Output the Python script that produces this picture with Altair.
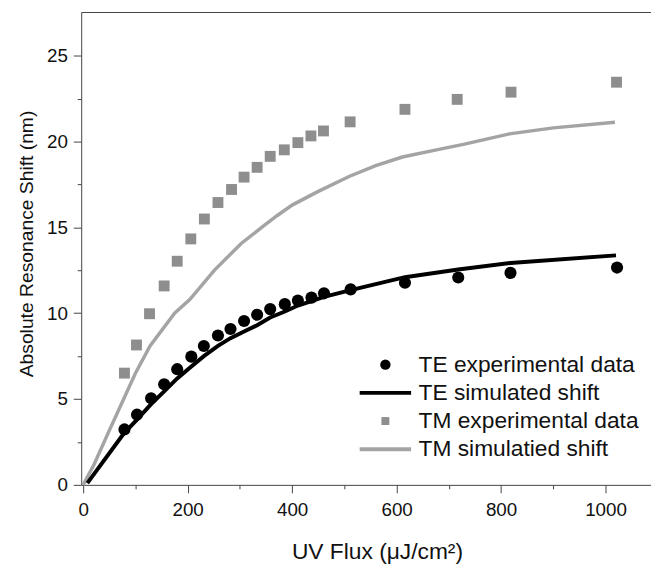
import altair as alt
import pandas as pd

# ---- data ----
te_exp_x = [79, 103, 130, 155, 180, 207, 231, 258, 282, 308, 333, 358, 386, 411, 437, 461, 512, 616, 718, 818, 1022]
te_exp_y = [3.23, 4.09, 5.05, 5.86, 6.74, 7.47, 8.09, 8.70, 9.08, 9.55, 9.91, 10.24, 10.53, 10.74, 10.91, 11.16, 11.39, 11.78, 12.08, 12.35, 12.66]

tm_exp_x = [79, 102, 127, 155, 180, 206, 232, 258, 284, 308, 333, 358, 385, 411, 436, 460, 511, 616, 716, 819, 1021]
tm_exp_y = [6.51, 8.15, 9.97, 11.59, 13.03, 14.33, 15.49, 16.45, 17.21, 17.93, 18.50, 19.14, 19.52, 19.94, 20.33, 20.62, 21.15, 21.88, 22.46, 22.88, 23.46]

te_sim_x = [8, 78, 103, 130, 155, 180, 207, 231, 258, 282, 309, 333, 358, 386, 411, 437, 461, 512, 616, 718, 818, 1020]
te_sim_y = [0.1, 3.0, 3.8, 4.7, 5.45, 6.2, 6.9, 7.5, 8.1, 8.55, 8.95, 9.3, 9.75, 10.1, 10.45, 10.7, 10.95, 11.35, 12.1, 12.55, 12.93, 13.37]

tm_sim_x = [0, 21, 49, 100, 128, 175, 204, 251, 302, 346, 371, 400, 450, 510, 560, 611, 674, 730, 816, 900, 1018]
tm_sim_y = [0, 1.2, 3.1, 6.5, 8.1, 10.0, 10.8, 12.5, 14.05, 15.1, 15.68, 16.3, 17.1, 17.98, 18.6, 19.1, 19.5, 19.85, 20.45, 20.8, 21.13]

series_names = ["TE experimental data", "TE simulated shift", "TM experimental data", "TM simulatied shift"]
series_colors = ["#000000", "#000000", "#8e8e8e", "#a4a4a4"]

x_major = [0, 200, 400, 600, 800, 1000]
x_minor = [100, 300, 500, 700, 900]
y_major = [0, 5, 10, 15, 20, 25]
y_minor = [2.5, 7.5, 12.5, 17.5, 22.5]

def frame(xs, ys, name):
    return pd.DataFrame({"x": xs, "y": ys, "series": name})

te_exp = frame(te_exp_x, te_exp_y, series_names[0])
te_sim = frame(te_sim_x, te_sim_y, series_names[1])
tm_exp = frame(tm_exp_x, tm_exp_y, series_names[2])
tm_sim = frame(tm_sim_x, tm_sim_y, series_names[3])

FONT = "Liberation Sans"
AX = "#444444"
TXT = "#111111"

xscale = alt.Scale(domain=[-3.8, 1087], nice=False, zero=False)
yscale = alt.Scale(domain=[0, 27.55], nice=False, zero=False)

lt = "(datum.value === 'TE simulated shift' || datum.value === 'TM simulatied shift')"
legend = alt.Legend(
    title=None, orient="none", legendX=276, legendY=345, padding=0,
    labelFont=FONT, labelFontSize=23, labelColor=TXT, labelOffset=22, labelLimit=400,
    rowPadding=4.5, symbolOffset=20,
    symbolType=alt.ExprRef(f"{lt} ? 'stroke' : (datum.value === 'TE experimental data' ? 'circle' : 'square')"),
    symbolSize=alt.ExprRef(f"{lt} ? 2704 : (datum.value === 'TE experimental data' ? 110 : 64)"),
    symbolStrokeWidth=alt.ExprRef(f"{lt} ? 4 : 0"),
    symbolOpacity=1,
)
color = alt.Color("series:N", scale=alt.Scale(domain=series_names, range=series_colors), legend=legend)

major_x_axis = alt.Axis(orient="bottom", values=x_major, tickSize=8, labelPadding=8,
                        title="UV Flux (μJ/cm²)", titleX=299, titleY=74, titleBaseline="alphabetic",
                        titleFontSize=23, grid=False, format="d")
minor_x_axis = alt.Axis(orient="bottom", values=x_minor, tickSize=4, labels=False,
                        domain=False, title=None, grid=False)
top_x_axis = alt.Axis(orient="top", labels=False, ticks=False, title=None, grid=False)
major_y_axis = alt.Axis(orient="left", values=y_major, tickSize=8, labelPadding=6,
                        title="Absolute Resonance Shift (nm)", titleX=-45, titleY=234,
                        titleBaseline="bottom", titleFontSize=19.5,
                        grid=False, format="d")
minor_y_axis = alt.Axis(orient="left", values=y_minor, tickSize=4, labels=False,
                        domain=False, title=None, grid=False)

tm_line = alt.Chart(tm_sim).mark_line(strokeWidth=3.5).encode(
    x=alt.X("x:Q", scale=xscale, axis=major_x_axis),
    y=alt.Y("y:Q", scale=yscale, axis=major_y_axis),
    color=color,
)
te_line = alt.Chart(te_sim).mark_line(strokeWidth=4).encode(
    x=alt.X("x:Q", scale=xscale, axis=minor_x_axis),
    y=alt.Y("y:Q", scale=yscale, axis=minor_y_axis),
    color=color,
)
tm_pts = alt.Chart(tm_exp).mark_square(size=121, opacity=1).encode(
    x=alt.X("x:Q", scale=xscale, axis=top_x_axis),
    y=alt.Y("y:Q", scale=yscale, axis=None),
    color=color,
)
te_pts = alt.Chart(te_exp).mark_circle(size=150, opacity=1).encode(
    x=alt.X("x:Q", scale=xscale, axis=None),
    y=alt.Y("y:Q", scale=yscale, axis=None),
    color=color,
)

chart = alt.layer(tm_line, te_line, tm_pts, te_pts).resolve_axis(
    x="independent", y="independent"
).properties(
    width=576, height=478,
    autosize=alt.AutoSizeParams(type="none"),
    padding={"left": 74, "top": 1, "right": 0, "bottom": 82},
    background="white",
).configure_view(stroke=None).configure_axis(
    domainColor=AX, tickColor=AX, domainWidth=1, tickWidth=1,
    labelFont=FONT, labelFontSize=19, labelColor=TXT,
    titleFont=FONT, titleFontSize=22, titleFontWeight="normal", titleColor=TXT,
)

chart.save("out.html", embed_options={"renderer": "svg", "actions": False})
